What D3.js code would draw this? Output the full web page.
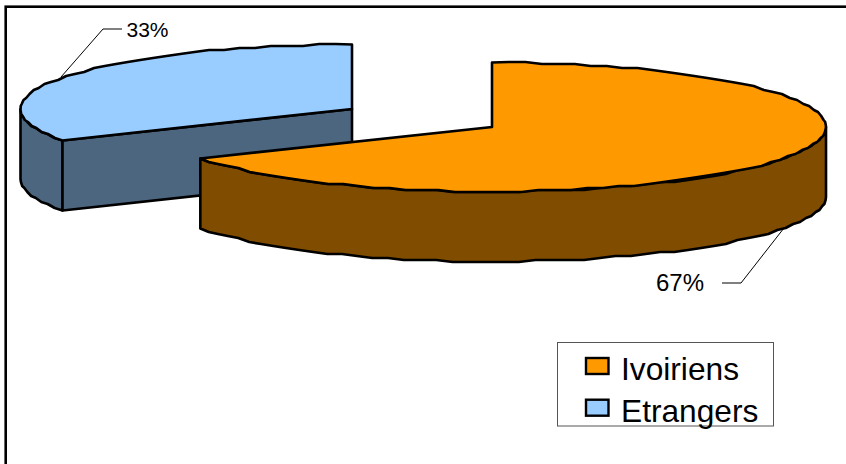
<!DOCTYPE html>
<html>
<head>
<meta charset="utf-8">
<style>html,body{margin:0;padding:0;background:#fff;overflow:hidden}svg{display:block}text{font-family:"Liberation Sans",Arial,sans-serif;fill:#000}</style>
<script src="https://cdn.jsdelivr.net/npm/d3@7/dist/d3.min.js"></script>
</head>
<body>
<svg id="c" width="846" height="464"></svg>
<script>
const categories = ["Ivoiriens", "Etrangers"];
const values = [66.9, 33.1];
const labels = ["67%", "33%"];
const topColors = ["#ff9900", "#99ccff"];
const sideColors = ["#7f4c00", "#4d6680"];

const svg = d3.select("#c");
const radii = [334, 331.5], ry = 64.5, depth = 70;
const centers = [[492, 127], [352, 109]];
const arcs = d3.pie().sort(null)(values);
const snap = v => Math.round(v / 2) * 2;
const line = d3.line();

// A point on the tilted pie's rim, clockwise from the top.
const rim = (i, a, jag) => {
  const c = centers[i];
  const x = c[0] + radii[i] * Math.sin(a), y = c[1] - ry * Math.cos(a);
  return jag ? [x, snap(y)] : [x, y];
};
const samples = (a0, a1) => {
  const n = Math.max(2, Math.round(Math.abs(a1 - a0) / 0.05));
  return d3.range(n + 1).map(k => a0 + (a1 - a0) * k / n);
};
const rimPts = (i, a0, a1) => samples(a0, a1).map((a, k, all) =>
  rim(i, a, k > 0 && k < all.length - 1));
const drop = p => [p[0], p[1] + depth];
const poly = pts => line(pts) + "Z";
const outline = {stroke: "#000", "stroke-width": 2.6, "stroke-linejoin": "round"};
const shape = (d, fill) => {
  const p = svg.append("path").attr("d", d).attr("fill", fill);
  Object.entries(outline).forEach(([k, v]) => p.attr(k, v));
};

svg.append("rect").attr("x", 5.7).attr("y", 6.7).attr("width", 1000).attr("height", 1000)
  .attr("fill", "#fff").attr("stroke", "#000").attr("stroke-width", 2.6);

// Etrangers (back slice): walls, then top
{
  const a = arcs[1], c = centers[1];
  const p0 = rim(1, a.startAngle);
  const wall = rimPts(1, a.startAngle, 1.5 * Math.PI);
  shape(poly(wall.concat(wall.slice().reverse().map(drop))), sideColors[1]);
  shape(poly([c, p0, drop(p0), drop(c)]), sideColors[1]);
  shape(poly([c].concat(rimPts(1, a.startAngle, a.endAngle))), topColors[1]);
}
// Ivoiriens (front slice): wall, then top
{
  const a = arcs[0], c = centers[0];
  const wall = rimPts(0, Math.PI / 2, a.endAngle);
  shape(poly(wall.concat(wall.slice().reverse().map(drop))), sideColors[0]);
  shape(poly([c].concat(rimPts(0, a.startAngle, a.endAngle))), topColors[0]);
}

// Leader lines and percentage labels
const leader = pts => svg.append("path").attr("d", line(pts)).attr("fill", "none")
  .attr("stroke", "#000").attr("stroke-width", 1);
leader([[61, 77], [103, 29], [122, 29]]);
leader([[784, 228], [741, 283], [722, 283]]);
svg.append("text").attr("x", 126.5).attr("y", 36.5).attr("font-size", 21).text(labels[1]);
svg.append("text").attr("x", 656).attr("y", 291.3).attr("font-size", 24).text(labels[0]);

// Legend
svg.append("rect").attr("x", 557.5).attr("y", 342.5).attr("width", 216).attr("height", 83.5)
  .attr("fill", "#fff").attr("stroke", "#555").attr("stroke-width", 1);
const rows = [0, 1].map(i => ({name: categories[i], color: topColors[i], y: 358 + i * 41.7}));
const g = svg.selectAll("g.leg").data(rows).join("g").attr("class", "leg");
g.append("rect").attr("x", 586).attr("y", d => d.y).attr("width", 22.5).attr("height", 16)
  .attr("fill", d => d.color).attr("stroke", "#000").attr("stroke-width", 2.4);
g.append("text").attr("x", 621).attr("y", d => d.y + 22).attr("font-size", 31.7).text(d => d.name);
</script>
</body>
</html>
